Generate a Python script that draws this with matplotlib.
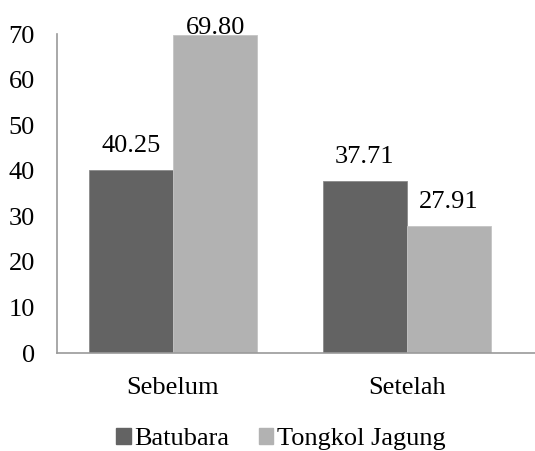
import numpy as np
import matplotlib.pyplot as plt
from matplotlib.patches import Patch

plt.rcParams['font.family'] = ['Liberation Serif', 'DejaVu Serif']

# data
categories = ["Sebelum", "Setelah"]
batubara = [40.25, 37.71]
tongkol_jagung = [69.80, 27.91]
series_names = ["Batubara", "Tongkol Jagung"]

dark = "#636363"
light = "#b2b2b2"
fs = 19

fig = plt.figure(figsize=(5.35, 4.51), dpi=100)
ax = fig.add_axes([0.1065, 0.217, 0.8935, 0.7076])

x = np.arange(len(categories))
w = 0.36
b1 = ax.bar(x - w / 2, batubara, w, color=dark, edgecolor="#8a8a8a", linewidth=0.6)
b2 = ax.bar(x + w / 2, tongkol_jagung, w, color=light, edgecolor="#c4c4c4", linewidth=0.6)

ymax = 70
for bars, vals in ((b1, batubara), (b2, tongkol_jagung)):
    for r, v in zip(bars, vals):
        # labels near the top get pushed down to stay inside the picture
        off = 13 if v < 0.9 * ymax else 0.5
        ax.annotate(f"{v:.2f}", (r.get_x() + r.get_width() / 2, v),
                    xytext=(0, off), textcoords="offset points",
                    ha="center", va="baseline", fontsize=fs, annotation_clip=False)

ax.set_xlim(-0.496, 1.547)
ax.set_ylim(0, ymax)
ax.set_yticks(np.arange(0, 71, 10))
ax.set_xticks(x)
ax.set_xticklabels(categories)
ax.tick_params(axis="both", length=0, labelsize=fs)
ax.tick_params(axis="y", pad=16)
ax.tick_params(axis="x", pad=17)

for s in ("top", "right"):
    ax.spines[s].set_visible(False)
for s in ("left", "bottom"):
    ax.spines[s].set_color("#9a9a9a")
    ax.spines[s].set_linewidth(1.2)

handles = [Patch(color=dark), Patch(color=light)]
fig.legend(handles, series_names, loc="center", bbox_to_anchor=(0.525, 0.027),
           ncol=2, frameon=False, fontsize=fs, handlelength=0.55, handleheight=0.55,
           handletextpad=0.15, columnspacing=1.1)

fig.savefig("out.png", dpi=100)
